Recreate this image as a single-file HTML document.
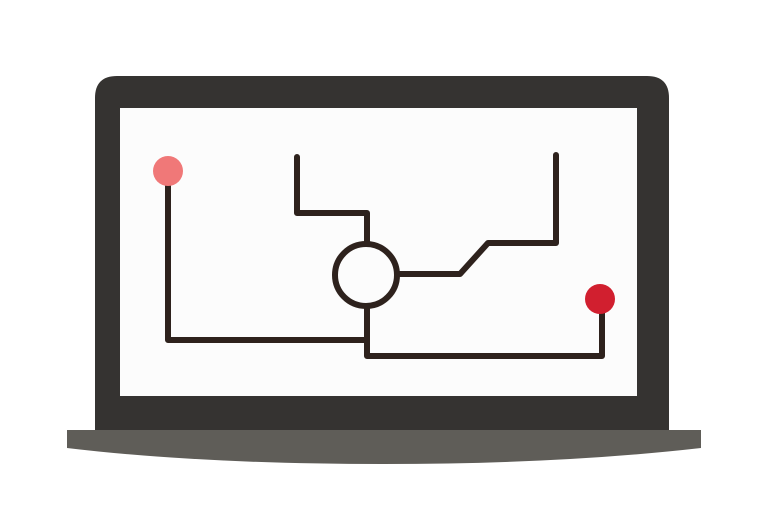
<!DOCTYPE html>
<html><head><style>body{margin:0;background:#fff}</style></head><body>
<svg width="768" height="512" viewBox="0 0 768 512" xmlns="http://www.w3.org/2000/svg">
<path d="M95 432 V98 Q95 76 117 76 H647 Q669 76 669 98 V432 Z" fill="#353331"/>
<rect x="120" y="108" width="517" height="288" fill="#fcfcfc"/>
<path d="M67 430 H701 V448 Q560 464 384 464 Q200 464 67 448 Z" fill="#5f5d58"/>
<g fill="none" stroke="#2e221d" stroke-width="6" stroke-linecap="round" stroke-linejoin="round">
<polyline points="168,171 168,340 366,340"/>
<polyline points="297,157 297,213 367,213 367,244"/>
<circle cx="366" cy="275" r="31"/>
<polyline points="367,306 367,356 602,356 602,300"/>
<polyline points="397,274 460,274 488,243 556,243 556,155"/>
</g>
<circle cx="168" cy="171" r="15" fill="#f07878"/>
<circle cx="600" cy="299" r="15" fill="#d11f2f"/>
</svg>
</body></html>
